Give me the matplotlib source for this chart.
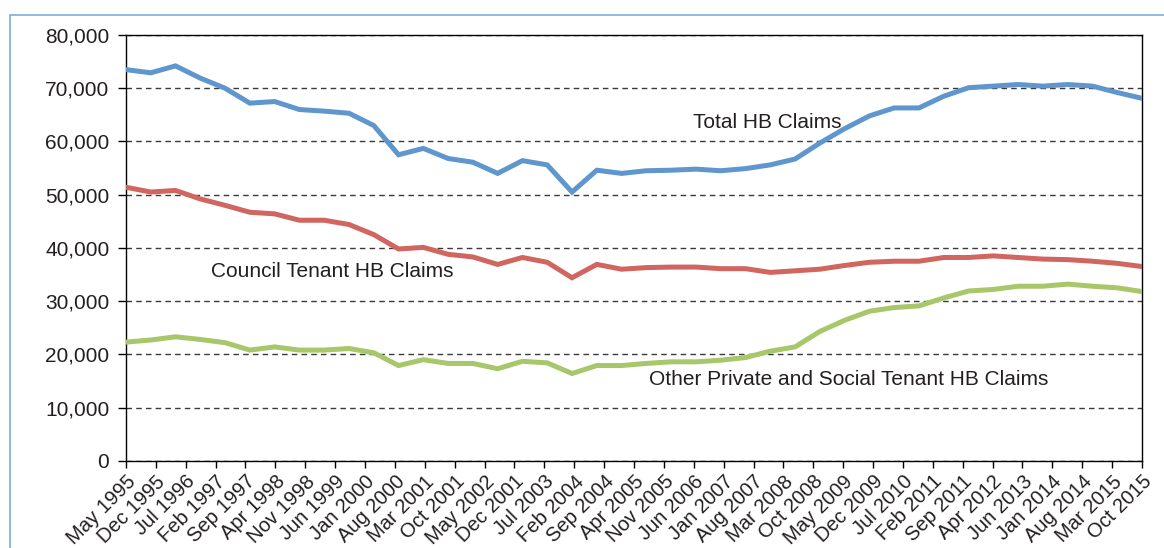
import numpy as np
import matplotlib
matplotlib.use("Agg")
import matplotlib.pyplot as plt
from matplotlib.patches import Rectangle
from matplotlib.ticker import FuncFormatter

# tick labels as printed on the original chart
tick_labels = ["May 1995", "Dec 1995", "Jul 1996", "Feb 1997", "Sep 1997", "Apr 1998",
               "Nov 1998", "Jun 1999", "Jan 2000", "Aug 2000", "Mar 2001", "Oct 2001",
               "May 2002", "Dec 2001", "Jul 2003", "Feb 2004", "Sep 2004", "Apr 2005",
               "Nov 2005", "Jun 2006", "Jan 2007", "Aug 2007", "Mar 2008", "Oct 2008",
               "May 2009", "Dec 2009", "Jul 2010", "Feb 2011", "Sep 2011", "Apr 2012",
               "Jun 2013", "Jan 2014", "Aug 2014", "Mar 2015", "Oct 2015"]

# roughly half-yearly readings, May 1995 .. Oct 2015
total_hb = [73500, 72900, 74200, 71900, 70000, 67200, 67500, 66000, 65700, 65300,
            63000, 57500, 58700, 56800, 56100, 54000, 56400, 55600, 50500, 54600,
            54000, 54500, 54600, 54800, 54500, 54900, 55600, 56700, 59700, 62400,
            64800, 66300, 66300, 68500, 70100, 70400, 70700, 70400, 70700, 70400,
            69200, 68100]
council_hb = [51400, 50500, 50800, 49200, 48000, 46700, 46400, 45200, 45200, 44400,
              42500, 39800, 40100, 38800, 38300, 36900, 38200, 37300, 34400, 36900,
              36000, 36300, 36400, 36400, 36100, 36100, 35400, 35700, 36000, 36700,
              37300, 37500, 37500, 38200, 38200, 38500, 38200, 37900, 37800, 37500,
              37100, 36500]
other_hb = [22300, 22700, 23300, 22800, 22200, 20800, 21400, 20800, 20800, 21100,
            20300, 17900, 19000, 18300, 18300, 17300, 18700, 18400, 16400, 17900,
            17900, 18300, 18600, 18600, 18900, 19400, 20600, 21400, 24300, 26400,
            28100, 28800, 29100, 30600, 31900, 32200, 32800, 32800, 33200, 32800,
            32500, 31800]

plt.rcParams['font.family'] = ['Liberation Sans', 'DejaVu Sans']
txt_col = '#231f20'
fs = 15

fig = plt.figure(figsize=(11.64, 5.48), dpi=100)
ax = fig.add_axes([0.1082, 0.1591, 0.8729, 0.777])

x = np.arange(len(total_hb))
ax.plot(x, total_hb, color='#5e96cd', lw=3.6, solid_joinstyle='miter', zorder=3)
ax.plot(x, council_hb, color='#d0665f', lw=3.6, solid_joinstyle='miter', zorder=3)
ax.plot(x, other_hb, color='#a8c66a', lw=3.6, solid_joinstyle='miter', zorder=3)

ax.set_xlim(0, len(x) - 1)
ax.set_ylim(0, 80000)
ax.set_yticks(np.arange(0, 80001, 10000))
ax.yaxis.set_major_formatter(FuncFormatter(lambda v, p: f"{int(v):,}"))
ax.set_xticks(np.linspace(0, len(x) - 1, len(tick_labels)))
ax.set_xticklabels(tick_labels, rotation=45, ha='right', rotation_mode='anchor')

ax.yaxis.grid(True, color='#3a3a3a', linestyle=(0, (4, 3)), lw=1.0)
ax.set_axisbelow(True)
for s in ax.spines.values():
    s.set_color('black')
    s.set_linewidth(1.0)
ax.tick_params(axis='both', colors='black', labelcolor=txt_col, labelsize=fs,
               width=1.0, direction='out')
ax.tick_params(axis='y', length=6, pad=6)
ax.tick_params(axis='x', length=5, pad=3, labelsize=14.5)

ax.text(22.9, 63600, "Total HB Claims", fontsize=fs, color=txt_col, va='center')
ax.text(3.42, 35600, "Council Tenant HB Claims", fontsize=fs, color=txt_col, va='center')
ax.text(21.1, 15200, "Other Private and Social Tenant HB Claims", fontsize=fs,
        color=txt_col, va='center')

# light blue frame around the whole figure
fig.patches.append(Rectangle((0.0086, -0.05), 1.1, 0.9726 + 0.05, transform=fig.transFigure,
                             fill=False, edgecolor='#7eaedb', lw=1.2))

fig.savefig('out.png', dpi=100)
